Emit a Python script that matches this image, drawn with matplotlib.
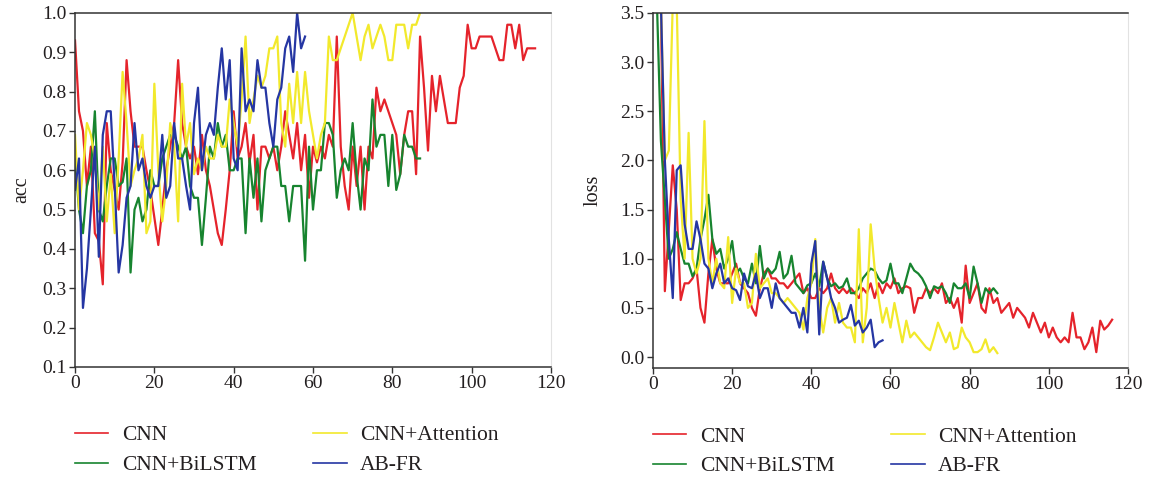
import matplotlib
matplotlib.use("Agg")
import matplotlib.pyplot as plt
from matplotlib.lines import Line2D

plt.rcParams['font.family'] = ['Liberation Serif', 'DejaVu Serif']

# series names and colours (legend order: column-wise)
names = ['CNN', 'CNN+BiLSTM', 'CNN+Attention', 'AB-FR']
colors = {'CNN': '#e5232b', 'CNN+Attention': '#f2e92c',
          'CNN+BiLSTM': '#17842f', 'AB-FR': '#2536a3'}

# accuracy per epoch
acc_cnn = [0.93, 0.75, 0.70, 0.56, 0.66, 0.44, 0.42, 0.31, 0.72, 0.60,
           0.55, 0.50, 0.62, 0.88, 0.75, 0.66, 0.66, 0.66, 0.60, 0.55,
           0.48, 0.41, 0.50, 0.60, 0.66, 0.72, 0.88, 0.72, 0.66, 0.63,
           0.66, 0.59, 0.69, 0.60, 0.56, 0.50, 0.44, 0.41, 0.50, 0.60,
           0.75, 0.63, 0.66, 0.72, 0.62, 0.69, 0.50, 0.66, 0.66, 0.63,
           0.66, 0.60, 0.66, 0.75, 0.69, 0.63, 0.72, 0.60, 0.69, 0.53,
           0.66, 0.62, 0.66, 0.63, 0.69, 0.66, 0.94, 0.66, 0.56, 0.50,
           0.66, 0.56, 0.66, 0.50, 0.66, 0.63, 0.81, 0.75, 0.78, 0.75,
           0.72, 0.69, 0.59, 0.69, 0.75, 0.75, 0.59, 0.94, 0.81, 0.65,
           0.84, 0.75, 0.84, 0.78, 0.72, 0.72, 0.72, 0.81, 0.84, 0.97,
           0.91, 0.91, 0.94, 0.94, 0.94, 0.94, 0.91, 0.88, 0.88, 0.97,
           0.97, 0.91, 0.97, 0.88, 0.91, 0.91, 0.91]
acc_bilstm = [0.63, 0.50, 0.44, 0.56, 0.60, 0.75, 0.50, 0.47, 0.56, 0.63,
              0.63, 0.56, 0.57, 0.63, 0.34, 0.50, 0.53, 0.47, 0.50, 0.60,
              0.56, 0.56, 0.63, 0.66, 0.69, 0.69, 0.66, 0.63, 0.66, 0.56,
              0.53, 0.53, 0.41, 0.53, 0.66, 0.63, 0.72, 0.66, 0.69, 0.60,
              0.60, 0.63, 0.63, 0.44, 0.63, 0.53, 0.63, 0.47, 0.60, 0.63,
              0.66, 0.66, 0.56, 0.56, 0.47, 0.56, 0.56, 0.56, 0.37, 0.66,
              0.50, 0.60, 0.60, 0.72, 0.72, 0.69, 0.53, 0.60, 0.63, 0.60,
              0.72, 0.59, 0.50, 0.63, 0.60, 0.78, 0.66, 0.69, 0.69, 0.56,
              0.69, 0.55, 0.59, 0.69, 0.66, 0.66, 0.63, 0.63]
acc_att = [0.69, 0.50, 0.60, 0.72, 0.69, 0.63, 0.50, 0.66, 0.47, 0.59,
           0.44, 0.63, 0.85, 0.72, 0.56, 0.60, 0.63, 0.69, 0.44, 0.47,
           0.82, 0.60, 0.47, 0.56, 0.72, 0.66, 0.47, 0.82, 0.66, 0.72,
           0.59, 0.63, 0.60, 0.66, 0.63, 0.63, 0.69, 0.66, 0.66, 0.78,
           0.72, 0.66, 0.78, 0.94, 0.72, 0.78, 0.84, 0.81, 0.84, 0.91,
           0.91, 0.94, 0.72, 0.66, 0.82, 0.72, 0.85, 0.72, 0.85, 0.75,
           0.69, 0.63, 0.69, 0.72, 0.94, 0.88, 0.88, 0.91, 0.94, 0.97,
           1.00, 0.94, 0.88, 0.94, 0.97, 0.91, 0.94, 0.97, 0.94, 0.88,
           0.88, 0.97, 0.97, 0.97, 0.91, 0.97, 0.97, 1.00]
acc_abfr = [0.55, 0.63, 0.25, 0.35, 0.50, 0.66, 0.38, 0.69, 0.75, 0.75,
            0.56, 0.34, 0.41, 0.53, 0.56, 0.72, 0.60, 0.63, 0.56, 0.53,
            0.56, 0.56, 0.69, 0.53, 0.56, 0.72, 0.63, 0.63, 0.56, 0.50,
            0.72, 0.81, 0.60, 0.69, 0.72, 0.69, 0.81, 0.91, 0.78, 0.88,
            0.63, 0.60, 0.91, 0.75, 0.78, 0.75, 0.88, 0.81, 0.81, 0.72,
            0.66, 0.78, 0.81, 0.91, 0.94, 0.85, 1.00, 0.91, 0.94]

# loss per epoch (first points run off the top of the axes)
loss_cnn = [3.6, 3.6, 3.6, 0.67, 1.3, 1.95, 1.5, 0.58, 0.75, 0.75,
            0.8, 0.9, 0.5, 0.35, 0.85, 1.2, 0.9, 0.75, 0.75, 0.75,
            0.85, 0.95, 0.75, 0.7, 0.65, 0.5, 0.42, 0.7, 0.85, 0.9,
            0.8, 0.8, 0.75, 0.75, 0.7, 0.75, 0.8, 0.85, 0.65, 0.7,
            0.6, 0.6, 0.7, 0.65, 0.7, 0.85, 0.7, 0.65, 0.7, 0.65,
            0.7, 0.65, 0.6, 0.7, 0.65, 0.75, 0.6, 0.75, 0.65, 0.75,
            0.7, 0.8, 0.65, 0.7, 0.72, 0.7, 0.45, 0.6, 0.6, 0.7,
            0.65, 0.7, 0.65, 0.75, 0.55, 0.6, 0.5, 0.6, 0.35, 0.93,
            0.55, 0.65, 0.75, 0.5, 0.45, 0.7, 0.55, 0.6, 0.45, 0.5,
            0.55, 0.4, 0.5, 0.45, 0.4, 0.3, 0.45, 0.35, 0.25, 0.35,
            0.2, 0.3, 0.2, 0.15, 0.2, 0.15, 0.45, 0.2, 0.2, 0.08,
            0.15, 0.3, 0.05, 0.37, 0.28, 0.32, 0.38]
loss_bilstm = [3.6, 3.6, 2.2, 1.6, 1.0, 1.1, 1.27, 1.1, 0.95, 0.95,
               0.82, 0.9, 1.2, 1.4, 1.65, 1.2, 1.05, 1.1, 0.9, 1.0,
               1.18, 0.85, 0.9, 0.8, 0.75, 0.95, 0.75, 1.13, 0.8, 0.9,
               0.85, 0.9, 1.07, 0.8, 0.85, 1.03, 0.75, 0.7, 0.65, 0.73,
               0.75, 0.85, 0.72, 0.97, 0.8, 0.72, 0.75, 0.7, 0.72, 0.8,
               0.65, 0.65, 0.7, 0.8, 0.85, 0.9, 0.88, 0.8, 0.75, 0.78,
               0.95, 0.75, 0.75, 0.65, 0.8, 0.95, 0.88, 0.85, 0.8, 0.72,
               0.6, 0.72, 0.7, 0.72, 0.65, 0.55, 0.75, 0.7, 0.7, 0.75,
               0.6, 0.92, 0.75, 0.55, 0.7, 0.65, 0.7, 0.65]
loss_att = [3.6, 3.6, 3.6, 2.0, 2.1, 3.6, 3.6, 1.6, 1.0, 2.28,
            1.0, 0.85, 1.0, 2.4, 1.0, 0.75, 1.0, 0.75, 0.7, 1.22,
            0.55, 0.9, 0.75, 0.75, 0.5, 0.55, 1.05, 0.7, 0.75, 0.8,
            0.65, 0.65, 0.6, 0.55, 0.6, 0.55, 0.5, 0.45, 0.28, 0.6,
            0.75, 1.2, 0.5, 0.25, 0.5, 0.6, 0.35, 0.55, 0.35, 0.3,
            0.3, 0.15, 1.3, 0.15, 0.5, 1.35, 0.9, 0.6, 0.35, 0.5,
            0.3, 0.55, 0.35, 0.15, 0.37, 0.2, 0.25, 0.2, 0.15, 0.1,
            0.07, 0.2, 0.35, 0.25, 0.15, 0.25, 0.08, 0.1, 0.3, 0.2,
            0.15, 0.05, 0.05, 0.08, 0.18, 0.05, 0.1, 0.04]
loss_abfr = [3.6, 3.6, 3.6, 2.0, 1.2, 0.6, 1.9, 1.95, 1.35, 1.1,
             1.1, 1.38, 1.2, 0.95, 0.9, 0.7, 0.85, 0.95, 0.75, 0.8,
             0.7, 0.68, 0.58, 0.85, 0.72, 0.7, 0.85, 0.6, 0.7, 0.7,
             0.5, 0.75, 0.6, 0.55, 0.5, 0.45, 0.45, 0.3, 0.5, 0.25,
             0.95, 1.18, 0.23, 0.97, 0.8, 0.6, 0.5, 0.35, 0.38, 0.4,
             0.53, 0.32, 0.37, 0.25, 0.3, 0.38, 0.1, 0.15, 0.17]

acc = {'CNN': acc_cnn, 'CNN+Attention': acc_att,
       'CNN+BiLSTM': acc_bilstm, 'AB-FR': acc_abfr}
loss = {'CNN': loss_cnn, 'CNN+Attention': loss_att,
        'CNN+BiLSTM': loss_bilstm, 'AB-FR': loss_abfr}

# drawing order: red, green, yellow, blue on top
draw_order = ['CNN', 'CNN+BiLSTM', 'CNN+Attention', 'AB-FR']

fig = plt.figure(figsize=(11.49, 4.79), dpi=100)
ax1 = fig.add_axes([0.0653, 0.234, 0.4142, 0.739])
ax2 = fig.add_axes([0.5683, 0.232, 0.4134, 0.741])

text_color = '#231f20'


def style_axes(ax, ylabel, pad):
    ax.set_xlim(0, 120)
    ax.set_xticks(range(0, 121, 20))
    ax.set_ylabel(ylabel, fontsize=14.5, color=text_color, labelpad=pad)
    for side in ['top', 'left', 'bottom']:
        ax.spines[side].set_color('#333333')
        ax.spines[side].set_linewidth(1.1)
    ax.spines['right'].set_color('#e2e2e2')
    ax.spines['right'].set_linewidth(0.8)
    ax.tick_params(axis='both', direction='out', length=4, width=1,
                   color='#333333', labelsize=14, labelcolor=text_color,
                   pad=2)


for name in draw_order:
    ys = acc[name]
    ax1.plot(range(len(ys)), ys, color=colors[name], lw=1.6)
    ys = loss[name]
    ax2.plot(range(len(ys)), ys, color=colors[name], lw=1.6)

style_axes(ax1, 'acc', 8)
ax1.set_ylim(0.1, 1.0)
ax1.set_yticks([0.1, 0.2, 0.3, 0.4, 0.5, 0.6, 0.7, 0.8, 0.9, 1.0])
ax1.set_yticklabels(['0.1', '0.2', '0.3', '0.4', '0.5', '0.6', '0.7', '0.8', '0.9', '1.0'])

style_axes(ax2, 'loss', 13)
ax2.set_ylim(-0.11, 3.5)
ax2.set_yticks([0.0, 0.5, 1.0, 1.5, 2.0, 2.5, 3.0, 3.5])
ax2.set_yticklabels(['0.0', '0.5', '1.0', '1.5', '2.0', '2.5', '3.0', '3.5'])

# legend below each panel, thin handles, two columns
for ax in [ax1, ax2]:
    handles = [Line2D([], [], color=colors[n], lw=1.2) for n in names]
    ax.legend(handles, names, loc='upper left', bbox_to_anchor=(0.0, -0.165),
              ncol=2, frameon=False, fontsize=15.5, handlelength=1.55,
              handletextpad=0.62, columnspacing=2.65, labelspacing=0.45,
              borderaxespad=0, borderpad=0, labelcolor=text_color)

fig.savefig('out.png', dpi=100, facecolor='white')
